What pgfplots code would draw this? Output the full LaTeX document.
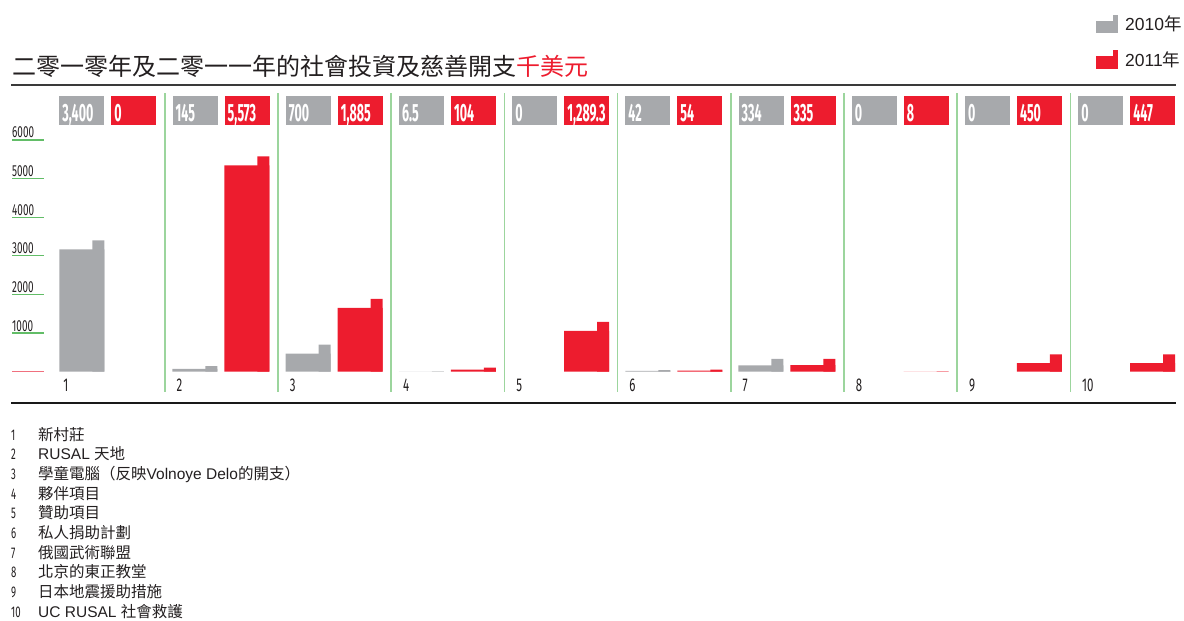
\documentclass[border=0pt]{standalone}
\usepackage{fontspec}
\usepackage{pgfplots}
\usepackage{pgfplotstable}
\pgfplotsset{compat=1.18}
\setmainfont{Liberation Sans}
\newfontfamily\cjk{Noto Sans CJK TC}
\newfontfamily\valfont[FakeStretch=0.5]{Fira Sans}
\newfontfamily\condfont[FakeStretch=0.62]{Fira Sans}

\definecolor{cgray}{HTML}{A7A9AC}
\definecolor{cred}{HTML}{ED1C2E}
\definecolor{sepgreen}{HTML}{9CD59D}
\definecolor{tickgreen}{HTML}{62BD67}
\definecolor{zeropink}{HTML}{F0707E}
\definecolor{ink}{HTML}{231F20}
\definecolor{rulegray}{HTML}{3A3A3A}

% spending in thousand US$: a = 2010, b = 2011; la/lb = printed labels
\pgfplotstableread{
k  a     b       la     lb
1  3400  0       3,400  0
2  145   5573    145    5,573
3  700   1885    700    1,885
4  6.5   104     6.5    104
5  0     1289.3  0      1,289.3
6  42    54      42     54
7  334   335     334    335
8  0     8       0      8
9  0     450     0      450
10 0     447     0      447
}\spend

\pgfplotsset{
  % zero amounts get no bar at all
  stepmain/.style={ybar, fill=#1, draw=none, bar width=45pt, restrict y to domain=0.001:100000},
  steptab/.style={ybar, fill=#1, draw=none, bar width=12pt, restrict y to domain=0.001:100000},
  labbox/.style={draw=none, mark=none, nodes near coords, point meta=explicit symbolic,
    nodes near coords style={anchor=west, inner xsep=3pt, inner ysep=0pt,
      text width=39pt, align=left, text height=25.7pt, text depth=3pt,
      text=white, fill=#1, font=\valfont\bfseries\fontsize{25}{25}\selectfont}},
}

\begin{document}
\begin{tikzpicture}
\path[use as bounding box] (0pt,0pt) rectangle (1184pt,-621pt);

\begin{axis}[
  at={(0pt,-621pt)}, anchor=south west,
  scale only axis, width=1184pt, height=621pt,
  xmin=0.47615, xmax=10.93555, ymin=-6455.2, ymax=9624.5,
  enlargelimits=false, hide axis, clip=false,
]
% separators between the projects
\pgfplotsinvokeforeach{1.9329,2.9329,3.9329,4.9329,5.9329,6.9329,7.9329,8.9329,9.9329}{
  \draw[sepgreen, line width=1.6pt] (axis cs:#1,7216) -- (axis cs:#1,-518);
}
% value scale at the left
\pgfplotsinvokeforeach{1000,2000,3000,4000,5000,6000}{
  \draw[tickgreen, line width=1.3pt] (axis cs:0.5822,#1) -- (axis cs:0.8648,#1);
  \node[anchor=base west, inner sep=0pt, yshift=2pt, text=ink,
        font=\condfont\fontsize{16}{16}\selectfont] at (axis cs:0.5822,#1) {#1};
}
\draw[zeropink, line width=1.3pt] (axis cs:0.5822,0) -- (axis cs:0.8648,0);

% 2010 bars (grey), stepped top
\addplot[stepmain=cgray, bar shift=22.5pt] table[x=k, y expr={\thisrow{a}-min(233,0.5*\thisrow{a})}] {\spend};
\addplot[steptab=cgray, bar shift=39pt] table[x=k, y=a] {\spend};
% 2011 bars (red), stepped top
\addplot[stepmain=cred, bar shift=74.5pt] table[x=k, y expr={\thisrow{b}-min(233,0.5*\thisrow{b})}] {\spend};
\addplot[steptab=cred, bar shift=91pt] table[x=k, y=b] {\spend};

% value boxes above each pair
\addplot[labbox=cgray] table[x=k, y expr=6767, meta=la] {\spend};
\addplot[labbox=cred, nodes near coords style={xshift=52pt}] table[x=k, y expr=6767, meta=lb] {\spend};

% project numbers under the bars
\pgfplotsinvokeforeach{1,...,10}{
  \node[anchor=base west, inner sep=0pt, text=ink,
        font=\condfont\fontsize{18.5}{18.5}\selectfont] at (axis cs:#1.035,-517.9) {#1};
}
\end{axis}

\begin{scope}[x=1pt, y=-1pt]
% title and rules
\node[anchor=base west, inner sep=0pt, text=ink, font=\cjk\fontsize{24}{24}\selectfont]
  at (12,75.5) {二零一零年及二零一一年的社會投資及慈善開支\textcolor{cred}{千美元}};
\draw[rulegray, line width=2pt] (11,85) -- (1176,85);
\draw[black!90, line width=2pt] (11,402.5) -- (1176,402.5);

% legend
\fill[cgray] (1096,20.7) rectangle (1112.7,33.3);
\fill[cgray] (1112.5,15) rectangle (1118.3,33.3);
\fill[cred] (1096,55.7) rectangle (1112.7,69.3);
\fill[cred] (1112.5,50) rectangle (1118.3,69.3);
\node[anchor=base west, inner sep=0pt, text=ink, font=\fontsize{17.5}{17.5}\selectfont]
  at (1125,30.7) {2010{\cjk 年}};
\node[anchor=base west, inner sep=0pt, text=ink, font=\fontsize{17.5}{17.5}\selectfont]
  at (1125,66.7) {2011{\cjk 年}};

% key to the project numbers
\begin{scope}[every node/.style={anchor=base west, inner sep=0pt, text=ink}]
\foreach \n [count=\i] in {1,...,10} {
  \node[font=\condfont\fontsize{15.5}{15.5}\selectfont] at (11,{440+19.7*(\i-1)}) {\n};
}
\begin{scope}[every node/.append style={font=\fontsize{15.5}{15.5}\selectfont}]
\node at (38,440.0) {\cjk 新村莊};
\node at (38,459.7) {RUSAL {\cjk 天地}};
\node at (38,479.4) {{\cjk 學童電腦（反映}Volnoye Delo{\cjk 的開支）}};
\node at (38,499.1) {\cjk 夥伴項目};
\node at (38,518.8) {\cjk 贊助項目};
\node at (38,538.5) {\cjk 私人捐助計劃};
\node at (38,558.2) {\cjk 俄國武術聯盟};
\node at (38,577.9) {\cjk 北京的東正教堂};
\node at (38,597.6) {\cjk 日本地震援助措施};
\node at (38,617.3) {UC RUSAL {\cjk 社會救護}};
\end{scope}
\end{scope}
\end{scope}
\end{tikzpicture}
\end{document}
